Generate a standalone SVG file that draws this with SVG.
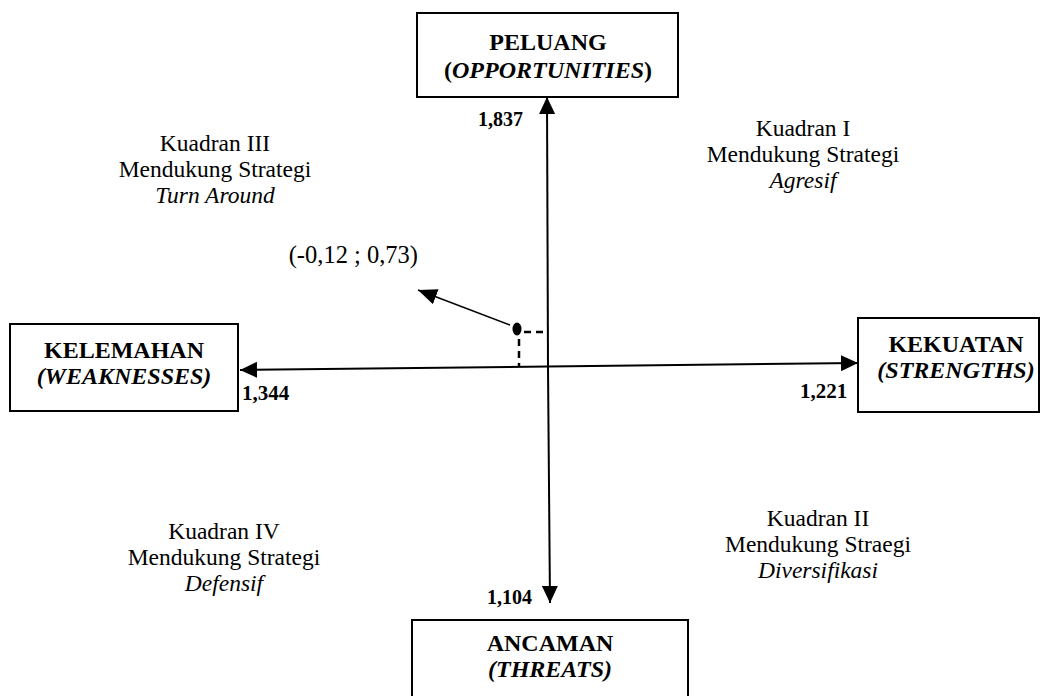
<svg xmlns="http://www.w3.org/2000/svg" width="1047" height="696" viewBox="0 0 1047 696">
<style>
.box{fill:#fff;stroke:#000;stroke-width:2}
.bl{font-family:"Liberation Serif","Times New Roman",serif;font-weight:bold;font-size:24px;text-anchor:middle;fill:#000}
.num{font-family:"Liberation Serif","Times New Roman",serif;font-weight:bold;font-size:20px;fill:#000}
.q{font-family:"Liberation Serif","Times New Roman",serif;font-size:23.5px;text-anchor:middle;fill:#000}
.it{font-style:italic}
.axis{stroke:#000;stroke-width:2;fill:none}
.dash{stroke:#000;stroke-width:2.5;stroke-dasharray:7,5;fill:none}
</style>
<defs>
<marker id="ah" markerUnits="userSpaceOnUse" markerWidth="18" markerHeight="16" refX="17" refY="8" orient="auto">
<path d="M0,0 L17,8 L0,16 Z" fill="#000"/>
</marker>
<marker id="ah2" markerUnits="userSpaceOnUse" markerWidth="20" markerHeight="16" refX="19" refY="8" orient="auto">
<path d="M0,0 L19,8 L0,16 Z" fill="#000"/>
</marker>
</defs>
<rect width="1047" height="696" fill="#fff"/>
<g id="connectors">
<line class="axis" x1="548" y1="368" x2="547" y2="97" marker-end="url(#ah)"/>
<line class="axis" x1="548" y1="368" x2="550" y2="603" marker-end="url(#ah)"/>
<line class="axis" x1="548" y1="366.5" x2="240" y2="370" marker-end="url(#ah)"/>
<line class="axis" x1="548" y1="366.5" x2="858" y2="363" marker-end="url(#ah)"/>
<line x1="510" y1="325" x2="418" y2="290" stroke="#000" stroke-width="1.6" marker-end="url(#ah2)"/>
<line class="dash" x1="524" y1="332" x2="547" y2="332"/>
<line class="dash" x1="519" y1="339" x2="519" y2="366"/>
<ellipse cx="517" cy="329" rx="4.5" ry="6.5" fill="#000"/>
</g>
<g id="peluang">
<rect class="box" x="417" y="13" width="261" height="84"/>
<text class="bl" x="548" y="50">PELUANG</text>
<text class="bl" x="548" y="78">(<tspan class="it">OPPORTUNITIES</tspan>)</text>
</g>
<g id="kelemahan">
<rect class="box" x="10" y="324" width="228" height="87"/>
<text class="bl" x="124" y="358">KELEMAHAN</text>
<text class="bl it" x="124" y="384">(WEAKNESSES)</text>
</g>
<g id="kekuatan">
<rect class="box" x="858" y="318" width="181" height="94"/>
<text class="bl" x="956" y="352">KEKUATAN</text>
<text class="bl it" x="956" y="378">(STRENGTHS)</text>
</g>
<g id="ancaman">
<rect class="box" x="412" y="620" width="276" height="90"/>
<text class="bl" x="550" y="651">ANCAMAN</text>
<text class="bl it" x="550" y="677">(THREATS)</text>
</g>
<g id="labels">
<text class="num" x="478" y="126">1,837</text>
<text class="num" x="242" y="400" style="font-size:21px">1,344</text>
<text class="num" x="800" y="398" style="font-size:21px">1,221</text>
<text class="num" x="487" y="604">1,104</text>
<text class="q" x="418" y="263" style="text-anchor:end;font-size:24.5px">(-0,12 ; 0,73)</text>
</g>
<g id="kuadran3">
<text class="q" x="215" y="151">Kuadran III</text>
<text class="q" x="215" y="177">Mendukung Strategi</text>
<text class="q it" x="215" y="203">Turn Around</text>
</g>
<g id="kuadran1">
<text class="q" x="803" y="136">Kuadran I</text>
<text class="q" x="803" y="162">Mendukung Strategi</text>
<text class="q it" x="803" y="188">Agresif</text>
</g>
<g id="kuadran4">
<text class="q" x="224" y="539">Kuadran IV</text>
<text class="q" x="224" y="565">Mendukung Strategi</text>
<text class="q it" x="224" y="591">Defensif</text>
</g>
<g id="kuadran2">
<text class="q" x="818" y="526">Kuadran II</text>
<text class="q" x="818" y="552">Mendukung Straegi</text>
<text class="q it" x="818" y="578">Diversifikasi</text>
</g>
</svg>
